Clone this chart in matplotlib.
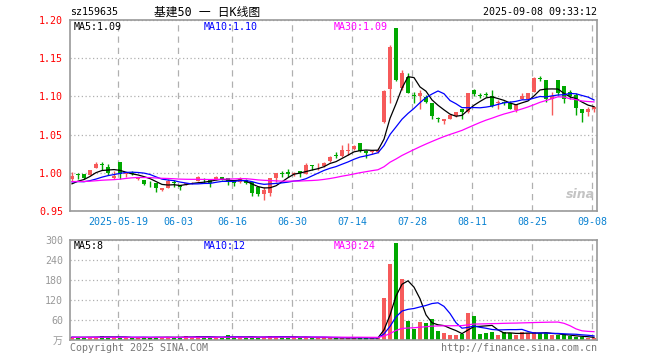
import numpy as np
import pandas as pd
import matplotlib
matplotlib.use("Agg")
import matplotlib.pyplot as plt

plt.rcParams['font.family'] = ['DejaVu Sans Mono', 'Noto Sans CJK SC']

# daily candles, 2025-05-07 .. 2025-09-08
open_ = [0.992, 0.998, 0.998, 0.997, 1.006, 1.011, 1.008, 0.993, 1.014, 0.998,
         1.000, 0.992, 0.990, 0.9865, 0.986, 0.977, 0.980, 0.988, 0.984, 0.985,
         0.986, 0.989, 0.991, 0.990, 0.991, 0.994, 0.993, 0.990, 0.988, 0.991,
         0.988, 0.982, 0.972, 0.973, 0.993, 1.000, 1.001, 0.998, 1.002, 0.999,
         1.010, 1.007, 1.009, 1.015, 1.023, 1.022, 1.028, 1.031, 1.039, 1.029,
         1.027, 1.027, 1.067, 1.110, 1.190, 1.111, 1.125, 1.102, 1.100, 1.099,
         1.091, 1.071, 1.068, 1.071, 1.075, 1.083, 1.080, 1.108, 1.102, 1.103,
         1.100, 1.091, 1.092, 1.091, 1.082, 1.097, 1.096, 1.106, 1.124, 1.121,
         1.096, 1.122, 1.113, 1.106, 1.102, 1.084, 1.079, 1.083]
high = [1.001, 1.000, 0.998, 1.004, 1.014, 1.014, 1.011, 1.002, 1.014, 1.001,
        1.002, 0.995, 0.990, 0.989, 0.986, 0.980, 0.992, 0.991, 0.984, 0.987,
        0.988, 0.996, 0.993, 0.991, 0.996, 0.995, 0.993, 0.991, 0.994, 0.992,
        0.988, 0.982, 0.982, 0.993, 1.000, 1.002, 1.005, 1.001, 1.002, 1.013,
        1.010, 1.013, 1.014, 1.022, 1.027, 1.036, 1.039, 1.037, 1.039, 1.030,
        1.030, 1.033, 1.108, 1.167, 1.190, 1.135, 1.130, 1.106, 1.109, 1.102,
        1.091, 1.073, 1.071, 1.076, 1.080, 1.084, 1.104, 1.110, 1.104, 1.106,
        1.108, 1.095, 1.094, 1.094, 1.090, 1.104, 1.105, 1.126, 1.127, 1.121,
        1.106, 1.122, 1.113, 1.109, 1.105, 1.084, 1.086, 1.087]
low = [0.989, 0.992, 0.992, 0.997, 1.006, 1.004, 0.997, 0.992, 0.992, 0.995,
       0.997, 0.990, 0.984, 0.981, 0.975, 0.976, 0.980, 0.982, 0.977, 0.984,
       0.985, 0.989, 0.987, 0.982, 0.991, 0.990, 0.984, 0.983, 0.986, 0.985,
       0.969, 0.970, 0.965, 0.970, 0.988, 0.995, 0.994, 0.996, 0.994, 0.999,
       1.004, 1.004, 1.008, 1.014, 1.019, 1.021, 1.023, 1.030, 1.027, 1.020,
       1.025, 1.026, 1.065, 1.091, 1.120, 1.108, 1.105, 1.092, 1.083, 1.091,
       1.070, 1.067, 1.064, 1.070, 1.073, 1.071, 1.078, 1.100, 1.098, 1.099,
       1.086, 1.083, 1.089, 1.083, 1.079, 1.096, 1.095, 1.106, 1.120, 1.093,
       1.076, 1.102, 1.091, 1.097, 1.076, 1.067, 1.074, 1.080]
close = [0.996, 0.997, 0.993, 1.004, 1.011, 1.010, 1.000, 0.996, 0.999, 0.999,
         0.999, 0.993, 0.985, 0.986, 0.980, 0.980, 0.989, 0.987, 0.981, 0.986,
         0.987, 0.994, 0.9905, 0.987, 0.994, 0.992, 0.989, 0.986, 0.992, 0.987,
         0.973, 0.972, 0.977, 0.993, 1.000, 0.999, 0.999, 1.000, 1.000, 1.010,
         1.009, 1.008, 1.013, 1.021, 1.022, 1.030, 1.029, 1.035, 1.029, 1.026,
         1.028, 1.030, 1.107, 1.165, 1.121, 1.131, 1.105, 1.101, 1.104, 1.093,
         1.074, 1.070, 1.071, 1.076, 1.079, 1.080, 1.104, 1.103, 1.101, 1.102,
         1.087, 1.093, 1.091, 1.084, 1.090, 1.100, 1.105, 1.124, 1.123, 1.096,
         1.101, 1.104, 1.096, 1.100, 1.085, 1.078, 1.084, 1.086]
volume = [9, 7, 8, 8, 9, 12, 8, 7, 9, 7, 6, 8, 8, 7, 9, 8, 9, 6, 8, 12,
          8, 12, 7, 8, 7, 6, 15, 8, 9, 7, 9, 8, 9, 12, 8, 12, 7, 8, 7, 9,
          7, 7, 8, 6, 6, 7, 6, 7, 8, 6, 5, 6, 127, 229, 292, 182, 58, 32, 55, 50,
          63, 28, 20, 15, 15, 18, 82, 72, 18, 22, 25, 15, 25, 20, 14, 25, 20, 25, 20, 20,
          14, 14, 14, 12, 8, 8, 7, 5]

# closes / volumes before the window (for the moving averages)
prev_close = [0.990, 0.992, 0.995, 0.993, 0.990, 0.988, 0.985, 0.980, 0.970, 0.975,
              0.980, 0.985, 0.990, 0.995, 0.993, 0.996, 0.998, 0.995, 0.992, 0.990,
              0.993, 0.995, 0.990, 0.990, 0.985, 0.980, 0.982, 0.984, 0.986]
prev_volume = [8, 9, 8, 7, 9, 10, 8, 8, 9, 8, 7, 8, 9, 8, 8,
               9, 8, 7, 8, 8, 9, 8, 7, 8, 9, 8, 8, 7, 8]

tick_idx = [8, 18, 27, 37, 47, 57, 67, 77, 87]
tick_labels = ['2025-05-19', '06-03', '06-16', '06-30', '07-14',
               '07-28', '08-11', '08-25', '09-08']
price_ticks = [0.95, 1.00, 1.05, 1.10, 1.15, 1.20]
vol_ticks = [0, 60, 120, 180, 240, 300]

RED = '#f65a5a'
GREEN = '#00a800'
GRID = '#b0b0b0'
FRAME = '#999999'

o = np.array(open_)
c = np.array(close)
x = np.arange(len(c))
colors = [RED if cc >= oo else GREEN for oo, cc in zip(o, c)]

cs = pd.Series(prev_close + close)
vs = pd.Series(prev_volume + volume)
n0 = len(prev_close)

fig = plt.figure(figsize=(6.6, 3.6), dpi=100)
ax = fig.add_axes([70 / 660, 1 - 211 / 360, 527 / 660, 191 / 360])
axv = fig.add_axes([70 / 660, 1 - 340 / 360, 527 / 660, 100 / 360])

gx = np.array(tick_idx) - 0.33
for a in (ax, axv):
    a.set_xlim(-0.33, 87.5)
    for s in a.spines.values():
        s.set_color(FRAME)
        s.set_linewidth(1.2)
    a.set_xticks(gx)
    a.grid(axis='x', color=GRID, ls=(0, (5, 4)), lw=0.9)
    a.grid(axis='y', color=GRID, ls=(0, (1, 2)), lw=0.9)
    a.set_axisbelow(True)
    a.tick_params(length=0)

# price panel
ax.vlines(x, low, high, colors=colors, lw=1.0)
body = np.maximum(np.abs(c - o), 0.0012)
ax.bar(x, body, bottom=np.minimum(o, c), width=0.8, color=colors, lw=0)
for n, col in ((5, 'black'), (10, '#0000ff'), (30, '#ff00ff')):
    ax.plot(x, cs.rolling(n).mean().values[n0:], color=col, lw=0.9)
ax.set_ylim(0.95, 1.20)
ax.set_yticks(price_ticks)
ax.set_yticklabels(['%.2f' % v for v in price_ticks], color='red', fontsize=7.2)
ax.tick_params(axis='y', pad=5)
ax.set_xticklabels(tick_labels, color='#0a82d2', fontsize=7.2)
ax.tick_params(axis='x', pad=4)

# volume panel
axv.bar(x, volume, width=0.8, color=colors, lw=0)
for n, col in ((5, 'black'), (10, '#0000ff'), (30, '#ff00ff')):
    axv.plot(x, vs.rolling(n).mean().values[n0:], color=col, lw=0.9)
axv.set_ylim(0, 300)
axv.set_yticks(vol_ticks)
axv.set_yticklabels(['万'] + [str(v) for v in vol_ticks[1:]], color='#999999', fontsize=7.2)
axv.tick_params(axis='y', pad=5)
axv.set_xticklabels([])


def ftext(px, py, s, size=7.2, **kw):
    fig.text(px / 660, 1 - py / 360, s, va='center', fontsize=size, **kw)


ftext(70, 12, 'sz159635', color='black')
ftext(207, 12, '基建50 一 日K线图', color='black', ha='center', size=8.5)
ftext(597, 12, '2025-09-08 09:33:12', color='black', ha='right')
ftext(74, 27, 'MA5:1.09', color='black')
ftext(204, 27, 'MA10:1.10', color='#0000ff')
ftext(334, 27, 'MA30:1.09', color='#ff00ff')
ftext(74, 246, 'MA5:8', color='black')
ftext(204, 246, 'MA10:12', color='#0000ff')
ftext(334, 246, 'MA30:24', color='#ff00ff')
ftext(70, 348, 'Copyright 2025 SINA.COM', color='#777777')
ftext(597, 348, 'http://finance.sina.com.cn', color='#777777', ha='right')
ftext(580, 195, 'sina', color='#c4c4c4', ha='center', size=9,
      fontstyle='italic', fontweight='bold', family='DejaVu Sans')

fig.savefig('out.png', dpi=100)
